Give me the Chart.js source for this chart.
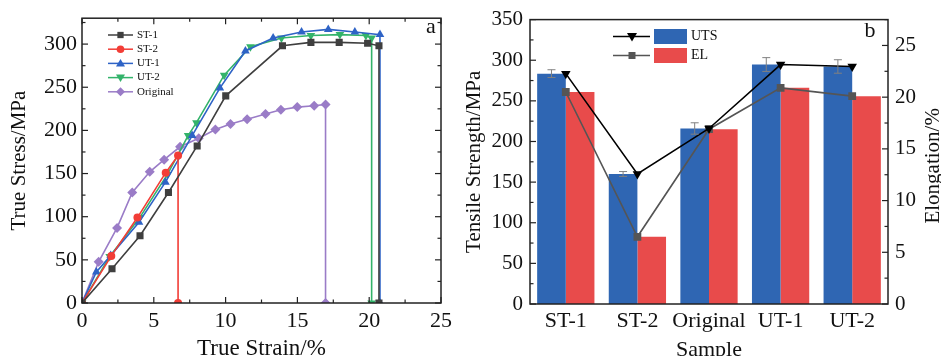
<!DOCTYPE html>
<html>
<head>
<meta charset="utf-8">
<script src="https://cdn.jsdelivr.net/npm/chart.js"></script>
<style>
  html, body { margin: 0; padding: 0; background: #fff; overflow: hidden; }
  #wrap { position: relative; width: 941px; height: 356px; overflow: hidden; }
  #chartA { position: absolute; left: 0; top: 0; }
  #chartB { position: absolute; left: 460px; top: 0; }
</style>
</head>
<body>
<div id="wrap">
  <canvas id="chartA" width="460" height="372"></canvas>
  <canvas id="chartB" width="481" height="372"></canvas>
</div>
<script>
// Panel a: true stress vs true strain
const st1X = [0, 2.09, 4.04, 6.02, 8.02, 10.01, 13.96, 15.94, 17.91, 19.89, 20.68, 20.68];
const st1Y = [0, 39.7, 78, 128, 182, 240, 298, 302, 302, 301, 298, 0];
const st2X = [0, 2.04, 3.86, 5.83, 6.69, 6.69];
const st2Y = [0, 54.6, 99, 151, 171, 0];
const ut1X = [0, 1.0, 2.0, 3.97, 5.81, 7.67, 9.6, 11.38, 13.31, 15.29, 17.15, 19.0, 20.75, 20.75];
const ut1Y = [0, 36, 55, 93.6, 140, 194, 249, 292, 307, 314, 317, 314, 311, 0];
const ut2X = [0, 1.93, 4.02, 5.95, 7.39, 7.97, 9.9, 11.73, 13.89, 15.94, 17.96, 19.77, 20.17, 20.17];
const ut2Y = [0, 54, 99, 149, 194, 209, 264, 297, 307, 310, 311, 310, 307, 0];
const origX = [0, 1.16, 2.44, 3.5, 4.72, 5.72, 6.83, 8.13, 9.29, 10.34, 11.5, 12.78, 13.85, 14.99, 16.17, 16.96, 16.96];
const origY = [0, 47.8, 87, 128, 152, 166, 181, 191, 201, 207.5, 213, 219, 224, 227, 228.5, 230, 0];

// Panel b: tensile strength and elongation by sample
const samples = ['ST-1', 'ST-2', 'Original', 'UT-1', 'UT-2'];
const uts = [283.5, 160, 216, 294.7, 292.3];
const utsErr = [4.8, 3, 7, 8.5, 8.3];
const el = [20.5, 6.5, 16.9, 20.9, 20.1];

const serif = 'Liberation Serif';
const ink = '#111';

function pts(xs, ys) { return xs.map((x, i) => ({ x: x, y: ys[i] })); }

// small marker drawer for the hand-made legends
function marker(ctx, style, x, y, r, color) {
  ctx.save();
  ctx.fillStyle = color;
  ctx.beginPath();
  if (style === 'rect') ctx.rect(x - r * 0.7, y - r * 0.7, r * 1.4, r * 1.4);
  else if (style === 'circle') ctx.arc(x, y, r * 0.85, 0, Math.PI * 2);
  else if (style === 'up') { ctx.moveTo(x, y - r); ctx.lineTo(x + r, y + r * 0.7); ctx.lineTo(x - r, y + r * 0.7); }
  else if (style === 'down') { ctx.moveTo(x, y + r); ctx.lineTo(x + r, y - r * 0.7); ctx.lineTo(x - r, y - r * 0.7); }
  else if (style === 'diamond') { ctx.moveTo(x, y - r); ctx.lineTo(x + r, y); ctx.lineTo(x, y + r); ctx.lineTo(x - r, y); }
  ctx.closePath();
  ctx.fill();
  ctx.restore();
}

// frame + inward ticks
function frameTicks(chart, axes) {
  const ctx = chart.ctx, a = chart.chartArea;
  ctx.save();
  ctx.strokeStyle = '#222';
  ctx.lineWidth = 1.5;
  ctx.strokeRect(a.left, a.top, a.right - a.left, a.bottom - a.top);
  ctx.lineWidth = 1.2;
  axes.forEach(ax => {
    const s = chart.scales[ax.id];
    for (let v = s.min; v <= s.max + 1e-9; v += ax.minor) {
      const isMajor = Math.abs(v / ax.major - Math.round(v / ax.major)) < 1e-6;
      const len = isMajor ? 6 : 3.5;
      const p = s.getPixelForValue(v);
      ax.sides.forEach(side => {
        ctx.beginPath();
        if (side === 'bottom') { ctx.moveTo(p, a.bottom); ctx.lineTo(p, a.bottom - len); }
        if (side === 'top') { ctx.moveTo(p, a.top); ctx.lineTo(p, a.top + len); }
        if (side === 'left') { ctx.moveTo(a.left, p); ctx.lineTo(a.left + len, p); }
        if (side === 'right') { ctx.moveTo(a.right, p); ctx.lineTo(a.right - len, p); }
        ctx.stroke();
      });
    }
  });
  ctx.restore();
}

const noGrid = { display: false, drawTicks: false, tickLength: 0 };
const tickFontA = { family: serif, size: 22 };
const tickFont = { family: serif, size: 21 };
const catFont = { family: serif, size: 22 };
const titleFont = { family: serif, size: 21 };

// ---------- Panel a ----------
const seriesA = [
  { label: 'ST-1', data: pts(st1X, st1Y), color: '#3f3f3f', style: 'rect', rot: 0, r: 5, m: 'rect' },
  { label: 'ST-2', data: pts(st2X, st2Y), color: '#f23d36', style: 'circle', rot: 0, r: 4, m: 'circle' },
  { label: 'UT-1', data: pts(ut1X, ut1Y), color: '#2e63c6', style: 'triangle', rot: 0, r: 5, m: 'up' },
  { label: 'UT-2', data: pts(ut2X, ut2Y), color: '#33b36a', style: 'triangle', rot: 180, r: 5, m: 'down' },
  { label: 'Original', data: pts(origX, origY), color: '#9a7cc7', style: 'rectRot', rot: 0, r: 5, m: 'diamond' }
];

const panelA = {
  id: 'panelA',
  afterDraw(chart) {
    frameTicks(chart, [
      { id: 'x', major: 5, minor: 2.5, sides: ['bottom', 'top'] },
      { id: 'y', major: 50, minor: 25, sides: ['left', 'right'] }
    ]);
    const ctx = chart.ctx;
    ctx.save();
    ctx.font = '11px "' + serif + '"';
    ctx.textBaseline = 'middle';
    seriesA.forEach((s, i) => {
      const y = 35 + i * 14.2;
      ctx.strokeStyle = s.color;
      ctx.lineWidth = 1.5;
      ctx.beginPath(); ctx.moveTo(108, y); ctx.lineTo(133, y); ctx.stroke();
      marker(ctx, s.m, 120.5, y, 4.5, s.color);
      ctx.fillStyle = ink;
      ctx.fillText(s.label, 137, y);
    });
    ctx.font = '22px "' + serif + '"';
    ctx.textAlign = 'center';
    ctx.fillText('a', 431, 27);
    ctx.restore();
  }
};

new Chart(document.getElementById('chartA'), {
  type: 'scatter',
  data: {
    datasets: seriesA.map(s => ({
      label: s.label,
      data: s.data,
      showLine: true,
      borderColor: s.color,
      backgroundColor: s.color,
      borderWidth: 1.6,
      pointStyle: s.style,
      rotation: s.rot,
      pointRadius: s.r,
      pointBorderWidth: 0,
      tension: 0
    }))
  },
  options: {
    responsive: false,
    animation: false,
    layout: { padding: { top: 15, right: 19, left: 0, bottom: 0 } },
    plugins: { legend: { display: false }, tooltip: { enabled: false } },
    scales: {
      x: {
        type: 'linear', min: 0, max: 25,
        grid: noGrid, border: { display: false },
        ticks: { stepSize: 5, color: ink, font: tickFontA, padding: 5, maxRotation: 0, autoSkip: false },
        title: { display: true, text: 'True Strain/%', color: ink, font: { family: serif, size: 23 }, padding: { top: 0, bottom: 9 } },
        afterFit: s => { s.height = 69; }
      },
      y: {
        min: 0, max: 330,
        grid: noGrid, border: { display: false },
        ticks: { stepSize: 50, includeBounds: false, color: ink, font: tickFontA, padding: 5 },
        title: { display: true, text: 'True Stress/MPa', color: ink, font: titleFont, padding: { top: 7, bottom: 0 } },
        afterFit: s => { s.width = 82; }
      }
    }
  },
  plugins: [panelA]
});

// ---------- Panel b ----------
const blue = '#2f66b3';
const red = '#e84b4b';

const panelB = {
  id: 'panelB',
  afterDatasetsDraw(chart) {
    const ctx = chart.ctx, ys = chart.scales.y;
    const meta = chart.getDatasetMeta(2);
    ctx.save();
    ctx.strokeStyle = '#808080';
    ctx.lineWidth = 1;
    meta.data.forEach((bar, i) => {
      const x = bar.x;
      const y1 = ys.getPixelForValue(uts[i] + utsErr[i]);
      const y2 = ys.getPixelForValue(uts[i] - utsErr[i]);
      ctx.beginPath();
      ctx.moveTo(x, y1); ctx.lineTo(x, y2);
      ctx.moveTo(x - 4, y1); ctx.lineTo(x + 4, y1);
      ctx.moveTo(x - 4, y2); ctx.lineTo(x + 4, y2);
      ctx.stroke();
    });
    ctx.restore();
  },
  afterDraw(chart) {
    frameTicks(chart, [
      { id: 'y', major: 50, minor: 25, sides: ['left'] },
      { id: 'y1', major: 5, minor: 2.5, sides: ['right'] }
    ]);
    const ctx = chart.ctx, a = chart.chartArea;
    ctx.save();
    // legend
    const rows = [
      { text: 'UTS', line: '#000', m: 'down', fill: blue, y: 36.5 },
      { text: 'EL', line: '#555', m: 'rect', fill: red, y: 55.5 }
    ];
    ctx.font = '14px "' + serif + '"';
    ctx.textBaseline = 'middle';
    rows.forEach(r => {
      ctx.strokeStyle = r.line;
      ctx.lineWidth = 1.5;
      ctx.beginPath(); ctx.moveTo(153, r.y); ctx.lineTo(190, r.y); ctx.stroke();
      marker(ctx, r.m, 172, r.y, 5, r.line);
      ctx.fillStyle = r.fill;
      ctx.fillRect(194, r.y - 7.5, 33, 15);
      ctx.fillStyle = ink;
      ctx.fillText(r.text, 231, r.y);
    });
    ctx.font = '22px "' + serif + '"';
    ctx.textAlign = 'center';
    ctx.fillText('b', 410, 31);
    // right axis title, reading bottom to top
    ctx.font = '21px "' + serif + '"';
    ctx.translate(473, (a.top + a.bottom) / 2 + 4);
    ctx.rotate(-Math.PI / 2);
    ctx.fillText('Elongation/%', 0, 0);
    ctx.restore();
  }
};

new Chart(document.getElementById('chartB'), {
  data: {
    labels: samples,
    datasets: [
      {
        type: 'line', label: 'UTS', data: uts, yAxisID: 'y', order: 0,
        borderColor: '#000', backgroundColor: '#000', borderWidth: 1.6,
        pointStyle: 'triangle', rotation: 180, pointRadius: 5.5, pointBorderWidth: 0, tension: 0
      },
      {
        type: 'line', label: 'EL', data: el, yAxisID: 'y1', order: 0,
        borderColor: '#555', backgroundColor: '#555', borderWidth: 1.6,
        pointStyle: 'rect', pointRadius: 5.5, pointBorderWidth: 0, tension: 0
      },
      {
        type: 'bar', label: 'UTS', data: uts, yAxisID: 'y', order: 1,
        backgroundColor: blue, categoryPercentage: 0.8, barPercentage: 1.0
      },
      {
        type: 'bar', label: 'EL', data: el, yAxisID: 'y1', order: 1,
        backgroundColor: red, categoryPercentage: 0.8, barPercentage: 1.0
      }
    ]
  },
  options: {
    responsive: false,
    animation: false,
    layout: { padding: { top: 15, right: 0, left: 0, bottom: 0 } },
    plugins: { legend: { display: false }, tooltip: { enabled: false } },
    scales: {
      x: {
        type: 'category', offset: true,
        grid: noGrid, border: { display: false },
        ticks: { color: ink, font: catFont, padding: 4, maxRotation: 0, autoSkip: false },
        title: { display: true, text: 'Sample', color: ink, font: { family: serif, size: 22 }, padding: { top: 0, bottom: 9 } },
        afterFit: s => { s.height = 68; }
      },
      y: {
        position: 'left', min: 0, max: 350,
        grid: noGrid, border: { display: false },
        ticks: { stepSize: 50, color: ink, font: tickFont, padding: 7 },
        title: { display: true, text: 'Tensile Strength/MPa', color: ink, font: titleFont, padding: { top: 2, bottom: 0 } },
        afterFit: s => { s.width = 70; }
      },
      y1: {
        position: 'right', min: 0, max: 27.5,
        grid: noGrid, border: { display: false },
        ticks: { stepSize: 5, includeBounds: false, color: ink, font: tickFont, padding: 7 },
        afterFit: s => { s.width = 53; }
      }
    }
  },
  plugins: [panelB]
});
</script>
</body>
</html>
